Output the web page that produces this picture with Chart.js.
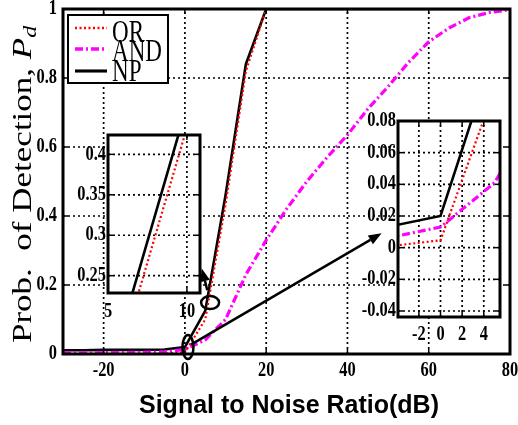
<!DOCTYPE html>
<html>
<head>
<meta charset="utf-8">
<script src="https://cdn.jsdelivr.net/npm/chart.js@4.4.1/dist/chart.umd.min.js"></script>
<style>
  html, body { margin: 0; padding: 0; background: #fff; }
  #wrap { position: relative; width: 518px; height: 425px; }
  canvas { position: absolute; }
</style>
</head>
<body>
<div id="wrap">
  <canvas id="main" width="518" height="425" style="left:0;top:0;width:518px;height:425px"></canvas>
  <canvas id="inset1" width="145" height="200" style="left:70px;top:125px;width:145px;height:200px"></canvas>
  <canvas id="inset2" width="180" height="240" style="left:335px;top:108px;width:180px;height:240px"></canvas>
</div>
<script>
// ---------------- data ----------------
const snr    = [-30, -25, -20, -15, -10, -5, 0, 5, 10, 15, 20, 25, 30, 35, 40, 45, 50, 55, 60, 65, 70, 75, 80];
const orPd   = [0, 0, 0, 0, 0, 0.0007, 0.0046, 0.10, 0.433, 0.82, 1, 1, 1, 1, 1, 1, 1, 1, 1, 1, 1, 1, 1];
const andPd  = [0.003, 0.003, 0.004, 0.004, 0.005, 0.006, 0.013, 0.041, 0.10, 0.23, 0.33, 0.42, 0.50, 0.57, 0.635, 0.71, 0.775, 0.845, 0.905, 0.945, 0.975, 0.99, 0.998];
const npPd   = [0.011, 0.011, 0.012, 0.012, 0.012, 0.013, 0.020, 0.125, 0.46, 0.84, 1, 1, 1, 1, 1, 1, 1, 1, 1, 1, 1, 1, 1];
const seriesNames = ['OR', 'AND', 'NP'];

const mainXTicks = [-20, 0, 20, 40, 60, 80];
const mainXLabels = ['-20', '0', '20', '40', '60', '80'];
const mainYTicks = [0, 0.2, 0.4, 0.6, 0.8, 1];
const mainYLabels = ['0', '0.2', '0.4', '0.6', '0.8', '1'];

const inset1XTicks = [5, 10];
const inset1XLabels = ['5', '10'];
const inset1YTicks = [0.25, 0.3, 0.35, 0.4];
const inset1YLabels = ['0.25', '0.3', '0.35', '0.4'];

const inset2XTicks = [-2, 0, 2, 4];
const inset2XLabels = ['-2', '0', '2', '4'];
const inset2YTicks = [-0.04, -0.02, 0, 0.02, 0.04, 0.06, 0.08];
const inset2YLabels = ['-0.04', '-0.02', '0', '0.02', '0.04', '0.06', '0.08'];

// annotation anchors in main-chart data units
const ellipseCenters = [[6.2, 0.149], [0.75, 0.02]];
const arrowStarts = [[5.5, 0.185], [1.5, 0.027]];
const arrowEnds   = [[4.15, 0.248], [48.4, 0.35]];

// ---------------- styles ----------------
const SERIF = '"Liberation Serif", "Times New Roman", serif';
const SANS = '"Liberation Sans", Arial, sans-serif';
const styleOR  = { borderColor: '#ff0000', borderWidth: 2.2, borderDash: [2, 2.5] };
const styleAND = { borderColor: '#ff00ff', borderWidth: 3.2, borderDash: [8, 3, 2, 3] };
const styleNP  = { borderColor: '#000000', borderWidth: 2.6, borderDash: [] };

function pts(ys) { return snr.map((x, i) => ({ x: x, y: ys[i] })); }
function makeDatasets(clip) {
  return [
    Object.assign({ label: seriesNames[0], data: pts(orPd), pointRadius: 0, fill: false, clip: clip }, styleOR),
    Object.assign({ label: seriesNames[1], data: pts(andPd), pointRadius: 0, fill: false, clip: clip }, styleAND),
    Object.assign({ label: seriesNames[2], data: pts(npPd), pointRadius: 0, fill: false, clip: clip }, styleNP)
  ];
}

function txt(ctx, s, x, y, font, align, base, sx) {
  ctx.save();
  ctx.translate(x, y);
  ctx.scale(sx, 1);
  ctx.font = font;
  ctx.textAlign = align;
  ctx.textBaseline = base;
  ctx.fillStyle = '#000';
  ctx.fillText(s, 0, 0);
  ctx.restore();
}

function drawGrid(chart, xt, yt, fillWhite) {
  const ctx = chart.ctx, a = chart.chartArea, xs = chart.scales.x, ys = chart.scales.y;
  ctx.save();
  if (fillWhite) { ctx.fillStyle = '#fff'; ctx.fillRect(a.left, a.top, a.right - a.left, a.bottom - a.top); }
  ctx.strokeStyle = '#000';
  ctx.lineWidth = 1.7;
  ctx.setLineDash([2, 3]);
  xt.forEach(v => {
    const p = xs.getPixelForValue(v);
    if (p > a.left + 2 && p < a.right - 2) { ctx.beginPath(); ctx.moveTo(p, a.bottom); ctx.lineTo(p, a.top); ctx.stroke(); }
  });
  yt.forEach(v => {
    const p = ys.getPixelForValue(v);
    if (p > a.top + 2 && p < a.bottom - 2) { ctx.beginPath(); ctx.moveTo(a.left, p); ctx.lineTo(a.right, p); ctx.stroke(); }
  });
  ctx.restore();
}

function drawFrame(chart, xt, yt, xl, yl, opt) {
  const ctx = chart.ctx, a = chart.chartArea, xs = chart.scales.x, ys = chart.scales.y;
  ctx.save();
  ctx.strokeStyle = '#000';
  ctx.setLineDash([]);
  ctx.lineWidth = 1.5;
  const t = 5;
  xt.forEach(v => {
    const p = xs.getPixelForValue(v);
    ctx.beginPath(); ctx.moveTo(p, a.bottom); ctx.lineTo(p, a.bottom - t); ctx.stroke();
    ctx.beginPath(); ctx.moveTo(p, a.top); ctx.lineTo(p, a.top + t); ctx.stroke();
  });
  yt.forEach(v => {
    const p = ys.getPixelForValue(v);
    ctx.beginPath(); ctx.moveTo(a.left, p); ctx.lineTo(a.left + t, p); ctx.stroke();
    ctx.beginPath(); ctx.moveTo(a.right, p); ctx.lineTo(a.right - t, p); ctx.stroke();
  });
  ctx.lineWidth = 3;
  ctx.strokeRect(a.left, a.top, a.right - a.left, a.bottom - a.top);
  ctx.restore();
  const font = 'bold 20px ' + SERIF;
  xt.forEach((v, i) => txt(ctx, xl[i], xs.getPixelForValue(v), a.bottom + opt.xOff, font, 'center', 'middle', opt.sx));
  yt.forEach((v, i) => txt(ctx, yl[i], a.left - opt.yOff, ys.getPixelForValue(v), font, 'right', 'middle', opt.sx));
}

function drawArrow(ctx, x1, y1, x2, y2) {
  const ang = Math.atan2(y2 - y1, x2 - x1), L = 13, W = 5;
  const bx = x2 - L * Math.cos(ang), by = y2 - L * Math.sin(ang);
  ctx.beginPath(); ctx.moveTo(x1, y1); ctx.lineTo(bx, by); ctx.stroke();
  ctx.beginPath();
  ctx.moveTo(x2, y2);
  ctx.lineTo(bx + W * Math.sin(ang), by - W * Math.cos(ang));
  ctx.lineTo(bx - W * Math.sin(ang), by + W * Math.cos(ang));
  ctx.closePath(); ctx.fill();
}

const mainPlugin = {
  id: 'mainDecor',
  beforeDatasetsDraw(chart) { drawGrid(chart, mainXTicks, mainYTicks, false); },
  afterDraw(chart) {
    const ctx = chart.ctx, xs = chart.scales.x, ys = chart.scales.y;
    drawFrame(chart, mainXTicks, mainYTicks, mainXLabels, mainYLabels, { xOff: 17, yOff: 6, sx: 0.82 });

    // annotations: ellipses and arrows
    ctx.save();
    ctx.strokeStyle = '#000'; ctx.fillStyle = '#000'; ctx.lineWidth = 2.5; ctx.setLineDash([]);
    const radii = [[9, 6.5], [5.5, 12]];
    ellipseCenters.forEach((c, i) => {
      ctx.beginPath();
      ctx.ellipse(xs.getPixelForValue(c[0]), ys.getPixelForValue(c[1]), radii[i][0], radii[i][1], 0, 0, Math.PI * 2);
      ctx.stroke();
    });
    arrowStarts.forEach((s, i) => {
      drawArrow(ctx, xs.getPixelForValue(s[0]), ys.getPixelForValue(s[1]),
                xs.getPixelForValue(arrowEnds[i][0]), ys.getPixelForValue(arrowEnds[i][1]));
    });
    ctx.restore();

    // legend
    ctx.save();
    ctx.fillStyle = '#fff'; ctx.fillRect(68, 15, 100, 68);
    ctx.strokeStyle = '#000'; ctx.lineWidth = 2; ctx.strokeRect(68, 15, 100, 68);
    const rows = [[styleOR, 28, 42], [styleAND, 49, 61], [styleNP, 71, 81]];
    rows.forEach((r, i) => {
      ctx.save();
      ctx.strokeStyle = r[0].borderColor; ctx.lineWidth = r[0].borderWidth + 0.5; ctx.setLineDash(r[0].borderDash);
      ctx.beginPath(); ctx.moveTo(75, r[1]); ctx.lineTo(107, r[1]); ctx.stroke();
      ctx.restore();
      txt(ctx, seriesNames[i], 112, r[2], '32px ' + SERIF, 'left', 'alphabetic', 0.72);
    });
    ctx.restore();

    // x title
    txt(ctx, 'Signal to Noise Ratio(dB)', 289, 413, 'bold 25px ' + SANS, 'center', 'alphabetic', 1);

    // y title (rotated)
    ctx.save();
    ctx.translate(31, 343);
    ctx.rotate(-Math.PI / 2);
    ctx.scale(1, 0.78);
    ctx.fillStyle = '#000';
    ctx.textBaseline = 'alphabetic';
    ctx.textAlign = 'left';
    ctx.font = '35px ' + SERIF;
    const s1 = 'Prob.  of Detection, ';
    ctx.fillText(s1, 0, 0);
    let w = ctx.measureText(s1).width;
    ctx.font = 'italic 35px ' + SERIF;
    ctx.fillText('P', w, 0);
    w += ctx.measureText('P').width;
    ctx.font = 'italic 24px ' + SERIF;
    ctx.fillText('d', w, 7);
    ctx.restore();
  }
};

new Chart(document.getElementById('main'), {
  type: 'line',
  data: { datasets: makeDatasets(undefined) },
  options: {
    responsive: false, animation: false, devicePixelRatio: 1,
    layout: { padding: { left: 63, top: 9, right: 8, bottom: 71 } },
    scales: {
      x: { type: 'linear', min: -30, max: 80, display: false },
      y: { type: 'linear', min: 0, max: 1, display: false }
    },
    plugins: { legend: { display: false }, tooltip: { enabled: false } },
    elements: { line: { tension: 0 }, point: { radius: 0 } }
  },
  plugins: [mainPlugin]
});

function insetPlugin(xt, yt, xl, yl, xOff) {
  return {
    id: 'insetDecor',
    beforeDatasetsDraw(chart) { drawGrid(chart, xt, yt, true); },
    afterDraw(chart) { drawFrame(chart, xt, yt, xl, yl, { xOff: xOff, yOff: 2, sx: 0.82 }); }
  };
}

new Chart(document.getElementById('inset1'), {
  type: 'line',
  data: { datasets: makeDatasets(0) },
  options: {
    responsive: false, animation: false, devicePixelRatio: 1,
    layout: { padding: { left: 38, top: 10, right: 15, bottom: 32 } },
    scales: {
      x: { type: 'linear', min: 5, max: 10.83, display: false },
      y: { type: 'linear', min: 0.2286, max: 0.4239, display: false }
    },
    plugins: { legend: { display: false }, tooltip: { enabled: false } },
    elements: { line: { tension: 0 }, point: { radius: 0 } }
  },
  plugins: [insetPlugin(inset1XTicks, inset1YTicks, inset1XLabels, inset1YLabels, 19)]
});

new Chart(document.getElementById('inset2'), {
  type: 'line',
  data: { datasets: makeDatasets(0) },
  options: {
    responsive: false, animation: false, devicePixelRatio: 1,
    layout: { padding: { left: 63, top: 13, right: 15, bottom: 31 } },
    scales: {
      x: { type: 'linear', min: -3.93, max: 5.5, display: false },
      y: { type: 'linear', min: -0.0438, max: 0.08, display: false }
    },
    plugins: { legend: { display: false }, tooltip: { enabled: false } },
    elements: { line: { tension: 0 }, point: { radius: 0 } }
  },
  plugins: [insetPlugin(inset2XTicks, inset2YTicks, inset2XLabels, inset2YLabels, 18)]
});
</script>
</body>
</html>
